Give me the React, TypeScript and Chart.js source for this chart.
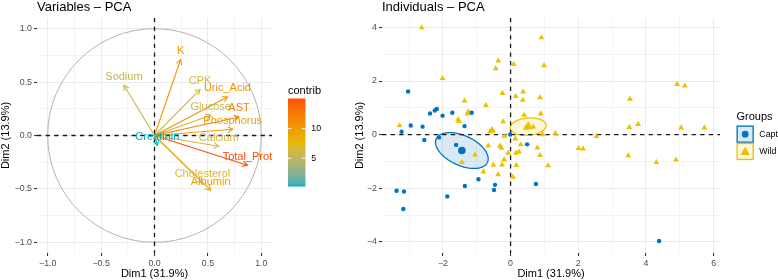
import React, { useEffect, useRef } from "react";
import { Chart, registerables } from "chart.js";

Chart.register(...registerables);

const FONT = "'Liberation Sans', Arial, Helvetica, sans-serif";

// ---------------- Variables – PCA ----------------
const VAR_NAMES = ["K", "Sodium", "CPK", "Uric_Acid", "Glucose", "AST", "Phosphorus", "Calcium", "Total_Prot", "Cholesterol", "Albumin", "Creatinin"];
const VAR_DIM1 = [0.245, -0.286, 0.426, 0.683, 0.526, 0.791, 0.732, 0.601, 0.87, 0.449, 0.526, 0.027];
const VAR_DIM2 = [0.711, 0.471, 0.43, 0.361, 0.19, 0.174, 0.059, -0.1, -0.278, -0.444, -0.512, -0.091];
const VAR_CONTRIB = [10.3, 5.5, 6.7, 10.9, 5.7, 11.9, 9.8, 6.8, 15.1, 7.3, 9.8, 0.3];
const CONTRIB_TICKS = [5, 10];
const CONTRIB_COLORS = ["#00AFBB", "#E7B800", "#FC4E07"];

const VAR_GRID = [-1, -0.75, -0.5, -0.25, 0, 0.25, 0.5, 0.75, 1];
const VAR_MAJOR = [-1, -0.5, 0, 0.5, 1];
const VAR_TICK_LABELS = ["\u22121.0", "\u22120.5", "0.0", "0.5", "1.0"];

// ---------------- Individuals – PCA ----------------
const GROUPS = ["Captive", "Wild"];
const GROUP_COLORS = ["#0073C2", "#EFC000"];

const CAPT_DIM1 = [-3.03, -2.38, -2.24, -2.18, -2.01, -1.72, -1.15, -1.36, -2.95, -2.6, -3.22, -2.55, -2.11, -1.61, -0.95, -1.35, -0.46, -0.49, -3.37, -3.15, -1.87, -3.17, 0.75, -0.01, 0.49, 4.39];
const CAPT_DIM2 = [1.61, 0.79, 0.9, 0.96, 0.71, 0.82, 0.82, 0.32, 0.34, 0.3, 0.11, -0.2, -0.1, -0.38, -1.66, -1.91, -1.87, -2.06, -2.09, -2.12, -2.3, -2.77, -1.84, 0.01, -0.36, -3.96];

const WILD_DIM1 = [-2.63, 0.91, -0.36, -0.44, 0.09, 0.99, -2.01, -0.24, 0.37, 0.15, 0.36, 0.87, -1.36, -0.73, -1.25, -1.27, -1.55, -1.53, -0.22, 0.4, 0.89, -3.28, -0.55, -0.52, 0.45, 0.67, 0.94, 1.32, -0.18, -0.61, 0.14, -0.31, -0.27, 0.3, 0.16, 0.25, 0.79, 0.87, 1.11, -0.19, -0.25, 0.17, 0.07, -0.07, -0.37, -0.66, -1.05, -1.44, -0.51, -0.8, 2.01, 2.14, 2.54, 4.92, 5.15, 3.53, 3.51, 3.77, 5.04, 5.73, 3.48, 4.31, 4.89];
const WILD_DIM2 = [3.99, 3.62, 2.75, 2.47, 2.62, 2.58, 2.1, 1.54, 1.6, 1.43, 1.29, 1.38, 1.26, 1.1, 0.86, 0.78, 0.57, 0.5, 0.49, 0.73, 0.78, 0.34, 0.2, 0.14, 0.25, 0.29, 0.01, 0.05, -0.05, 0.11, -0.15, -0.42, -0.5, -0.37, -0.68, -0.64, -0.49, -0.77, -1.15, -0.93, -1.12, -1.14, -1.58, -0.68, -1.49, -0.41, -0.75, -1.03, -1.13, -1.38, -0.51, -0.53, -0.06, 1.88, 1.82, 1.33, 0.28, 0.39, 0.26, 0.26, -0.78, -1.03, -0.94];

const GROUP_MEAN_DIM1 = [-1.44, 0.52];
const GROUP_MEAN_DIM2 = [-0.59, 0.3];
// confidence ellipses: semi-axis vectors in data units
const ELLIPSE_MAJOR = [[0.757, -0.441], [0.532, 0.058]];
const ELLIPSE_MINOR = [[-0.186, -0.503], [0.022, -0.322]];

const IND_X_GRID = [-3, -2, -1, 0, 1, 2, 3, 4, 5, 6];
const IND_X_MAJOR = [-2, 0, 2, 4, 6];
const IND_X_LABELS = ["\u22122", "0", "2", "4", "6"];
const IND_Y_GRID = [-4, -3, -2, -1, 0, 1, 2, 3, 4];
const IND_Y_MAJOR = [-4, -2, 0, 2, 4];
const IND_Y_LABELS = ["\u22124", "\u22122", "0", "2", "4"];

// ---------------- colour helpers (Lab interpolation like ggplot) ----------------
function hexToRgb(h: string) {
  return [parseInt(h.slice(1, 3), 16), parseInt(h.slice(3, 5), 16), parseInt(h.slice(5, 7), 16)];
}
function toLin(c: number) {
  c /= 255;
  return c <= 0.04045 ? c / 12.92 : Math.pow((c + 0.055) / 1.055, 2.4);
}
function fromLin(c: number) {
  const v = c <= 0.0031308 ? 12.92 * c : 1.055 * Math.pow(c, 1 / 2.4) - 0.055;
  return Math.round(Math.max(0, Math.min(1, v)) * 255);
}
function rgbToLab(rgb: number[]) {
  const R = toLin(rgb[0]), G = toLin(rgb[1]), B = toLin(rgb[2]);
  const X = (0.4124564 * R + 0.3575761 * G + 0.1804375 * B) / 0.95047;
  const Y = 0.2126729 * R + 0.7151522 * G + 0.072175 * B;
  const Z = (0.0193339 * R + 0.119192 * G + 0.9503041 * B) / 1.08883;
  const f = (t: number) => (t > 0.008856 ? Math.cbrt(t) : 7.787 * t + 16 / 116);
  return [116 * f(Y) - 16, 500 * (f(X) - f(Y)), 200 * (f(Y) - f(Z))];
}
function labToRgb(lab: number[]) {
  const fy = (lab[0] + 16) / 116, fx = fy + lab[1] / 500, fz = fy - lab[2] / 200;
  const inv = (t: number) => (t * t * t > 0.008856 ? t * t * t : (t - 16 / 116) / 7.787);
  const X = inv(fx) * 0.95047, Y = inv(fy), Z = inv(fz) * 1.08883;
  const R = 3.2404542 * X - 1.5371385 * Y - 0.4985314 * Z;
  const G = -0.969266 * X + 1.8760108 * Y + 0.041556 * Z;
  const B = 0.0556434 * X - 0.2040259 * Y + 1.0572252 * Z;
  return [fromLin(R), fromLin(G), fromLin(B)];
}
const STOPS_LAB = CONTRIB_COLORS.map((c) => rgbToLab(hexToRgb(c)));
const C_MIN = Math.min(...VAR_CONTRIB);
const C_MAX = Math.max(...VAR_CONTRIB);
function contribColor(v: number) {
  const t = Math.max(0, Math.min(1, (v - C_MIN) / (C_MAX - C_MIN)));
  const seg = t * (STOPS_LAB.length - 1);
  const i = Math.min(STOPS_LAB.length - 2, Math.floor(seg));
  const f = seg - i;
  const a = STOPS_LAB[i], b = STOPS_LAB[i + 1];
  const rgb = labToRgb([a[0] + (b[0] - a[0]) * f, a[1] + (b[1] - a[1]) * f, a[2] + (b[2] - a[2]) * f]);
  return `rgb(${rgb[0]},${rgb[1]},${rgb[2]})`;
}
function alpha(hex: string, a: number) {
  const c = hexToRgb(hex);
  return `rgba(${c[0]},${c[1]},${c[2]},${a})`;
}

// ---------------- shared axis builder ----------------
function makeScale(min: number, max: number, grid: number[], major: number[], labels: string[], fitKey: string, fitVal: number) {
  return {
    type: "linear",
    min,
    max,
    afterBuildTicks: (s: any) => {
      s.ticks = grid.map((v) => ({ value: v }));
    },
    afterFit: (s: any) => {
      s[fitKey] = fitVal;
    },
    ticks: {
      autoSkip: false,
      maxRotation: 0,
      minRotation: 0,
      padding: 2,
      color: "#4D4D4D",
      font: { family: FONT, size: 8.8 },
      callback: (v: number) => {
        const i = major.indexOf(v);
        return i >= 0 ? labels[i] : "";
      },
    },
    grid: {
      color: "#EBEBEB",
      lineWidth: (c: any) => (major.includes(c.tick?.value) ? 1.07 : 0.53),
      tickColor: (c: any) => (major.includes(c.tick?.value) ? "#333333" : "rgba(0,0,0,0)"),
      tickLength: 3,
      drawTicks: true,
    },
    border: { display: false },
  };
}

function drawZeroLines(ctx: CanvasRenderingContext2D, a: any, px: number, py: number) {
  ctx.save();
  ctx.strokeStyle = "#1A1A1A";
  ctx.lineWidth = 1.3;
  ctx.setLineDash([4.3, 4.3]);
  ctx.beginPath();
  ctx.moveTo(a.left, py);
  ctx.lineTo(a.right, py);
  ctx.moveTo(px, a.top);
  ctx.lineTo(px, a.bottom);
  ctx.stroke();
  ctx.restore();
}

function drawTitles(ctx: CanvasRenderingContext2D, a: any, title: string, yTitleX: number) {
  ctx.save();
  ctx.fillStyle = "#000000";
  ctx.font = `13px ${FONT}`;
  ctx.textAlign = "left";
  ctx.textBaseline = "alphabetic";
  ctx.fillText(title, a.left, 10.5);
  ctx.font = `11px ${FONT}`;
  ctx.textAlign = "center";
  ctx.fillText("Dim1 (31.9%)", (a.left + a.right) / 2, 277);
  ctx.translate(yTitleX, (a.top + a.bottom) / 2);
  ctx.rotate(-Math.PI / 2);
  ctx.fillText("Dim2 (13.9%)", 0, 0);
  ctx.restore();
}

// ---------------- plugins ----------------
const varPlugin = {
  id: "varDecor",
  beforeDatasetsDraw(chart: any) {
    const { ctx, chartArea: a, scales } = chart;
    const x = scales.x, y = scales.y;
    const cx = x.getPixelForValue(0), cy = y.getPixelForValue(0);
    ctx.save();
    ctx.beginPath();
    ctx.ellipse(cx, cy, x.getPixelForValue(1) - cx, cy - y.getPixelForValue(1), 0, 0, Math.PI * 2);
    ctx.strokeStyle = "#B3B3B3";
    ctx.lineWidth = 1;
    ctx.stroke();
    ctx.restore();
    drawZeroLines(ctx, a, cx, cy);
  },
  afterDatasetsDraw(chart: any) {
    const { ctx, scales } = chart;
    const x = scales.x, y = scales.y;
    const ox = x.getPixelForValue(0), oy = y.getPixelForValue(0);
    ctx.save();
    VAR_NAMES.forEach((name, i) => {
      const tx = x.getPixelForValue(VAR_DIM1[i]);
      const ty = y.getPixelForValue(VAR_DIM2[i]);
      const col = contribColor(VAR_CONTRIB[i]);
      const ang = Math.atan2(ty - oy, tx - ox);
      const L = 5.7, h = Math.PI / 6;
      ctx.strokeStyle = col;
      ctx.lineWidth = 1.1;
      ctx.beginPath();
      ctx.moveTo(tx - L * Math.cos(ang - h), ty - L * Math.sin(ang - h));
      ctx.lineTo(tx, ty);
      ctx.lineTo(tx - L * Math.cos(ang + h), ty - L * Math.sin(ang + h));
      ctx.stroke();
      ctx.fillStyle = col;
      ctx.font = `11px ${FONT}`;
      ctx.textAlign = "center";
      ctx.textBaseline = "alphabetic";
      ctx.fillText(name, tx, ty - 5.6);
    });
    ctx.restore();
  },
  afterDraw(chart: any) {
    const { ctx, chartArea: a } = chart;
    drawTitles(ctx, a, "Variables \u2013 PCA", 9);
    // colour bar legend
    const bx = 288, bw = 17.3, top = 98.5, bot = 186;
    ctx.save();
    ctx.fillStyle = "#000";
    ctx.font = `11px ${FONT}`;
    ctx.textAlign = "left";
    ctx.textBaseline = "alphabetic";
    ctx.fillText("contrib", bx, 93.5);
    const n = 120;
    for (let k = 0; k < n; k++) {
      const v = C_MIN + ((k + 0.5) / n) * (C_MAX - C_MIN);
      const y0 = bot - ((k + 1) / n) * (bot - top);
      ctx.fillStyle = contribColor(v);
      ctx.fillRect(bx, y0, bw, (bot - top) / n + 0.6);
    }
    CONTRIB_TICKS.forEach((t) => {
      const ty = bot - ((t - C_MIN) / (C_MAX - C_MIN)) * (bot - top);
      ctx.strokeStyle = "#FFFFFF";
      ctx.lineWidth = 1;
      ctx.beginPath();
      ctx.moveTo(bx, ty);
      ctx.lineTo(bx + bw / 5, ty);
      ctx.moveTo(bx + bw, ty);
      ctx.lineTo(bx + bw - bw / 5, ty);
      ctx.stroke();
      ctx.fillStyle = "#000";
      ctx.font = `8.8px ${FONT}`;
      ctx.textBaseline = "middle";
      ctx.fillText(String(t), bx + bw + 6, ty);
    });
    ctx.restore();
  },
};

function trianglePath(ctx: CanvasRenderingContext2D, x: number, y: number, r: number) {
  ctx.beginPath();
  ctx.moveTo(x, y - r);
  ctx.lineTo(x + r * 0.866, y + r * 0.5);
  ctx.lineTo(x - r * 0.866, y + r * 0.5);
  ctx.closePath();
}

const indPlugin = {
  id: "indDecor",
  beforeDatasetsDraw(chart: any) {
    const { ctx, chartArea: a, scales } = chart;
    const x = scales.x, y = scales.y;
    ctx.save();
    GROUP_MEAN_DIM1.forEach((mx, g) => {
      const my = GROUP_MEAN_DIM2[g];
      const M = ELLIPSE_MAJOR[g], m = ELLIPSE_MINOR[g];
      ctx.beginPath();
      const steps = 90;
      for (let k = 0; k <= steps; k++) {
        const t = (k / steps) * Math.PI * 2;
        const dx = mx + Math.cos(t) * M[0] + Math.sin(t) * m[0];
        const dy = my + Math.cos(t) * M[1] + Math.sin(t) * m[1];
        const px = x.getPixelForValue(dx), py = y.getPixelForValue(dy);
        if (k === 0) ctx.moveTo(px, py);
        else ctx.lineTo(px, py);
      }
      ctx.closePath();
      ctx.fillStyle = alpha(GROUP_COLORS[g], 0.15);
      ctx.fill();
      ctx.strokeStyle = GROUP_COLORS[g];
      ctx.lineWidth = 1.3;
      ctx.stroke();
    });
    ctx.restore();
    drawZeroLines(ctx, a, x.getPixelForValue(0), y.getPixelForValue(0));
  },
  afterDraw(chart: any) {
    const { ctx, chartArea: a } = chart;
    drawTitles(ctx, a, "Individuals \u2013 PCA", 23);
    // groups legend (canvas offset 340)
    const lx = 736.5 - 340, ks = 17.3, ky0 = 125.5;
    ctx.save();
    ctx.fillStyle = "#000";
    ctx.font = `11px ${FONT}`;
    ctx.textAlign = "left";
    ctx.textBaseline = "alphabetic";
    ctx.fillText("Groups", lx, 119.5);
    GROUPS.forEach((gname, g) => {
      const ky = ky0 + g * ks;
      ctx.fillStyle = alpha(GROUP_COLORS[g], 0.15);
      ctx.fillRect(lx, ky, ks, ks);
      ctx.strokeStyle = GROUP_COLORS[g];
      ctx.lineWidth = 1.3;
      ctx.strokeRect(lx + 0.65, ky + 0.65, ks - 1.3, ks - 1.3);
      ctx.fillStyle = GROUP_COLORS[g];
      const cx = lx + ks / 2, cy = ky + ks / 2;
      if (g === 0) {
        ctx.beginPath();
        ctx.arc(cx, cy, 3.4, 0, Math.PI * 2);
        ctx.fill();
      } else {
        trianglePath(ctx, cx, cy + 0.8, 5.4);
        ctx.fill();
      }
      ctx.fillStyle = "#000";
      ctx.font = `8.8px ${FONT}`;
      ctx.textBaseline = "middle";
      ctx.fillText(gname, lx + ks + 5.5, cy);
    });
    ctx.restore();
  },
};

function VarChart() {
  const ref = useRef<HTMLCanvasElement | null>(null);
  useEffect(() => {
    if (!ref.current) return;
    const datasets = VAR_NAMES.map((name, i) => ({
      label: name,
      data: [
        { x: 0, y: 0 },
        { x: VAR_DIM1[i], y: VAR_DIM2[i] },
      ],
      showLine: true,
      borderColor: contribColor(VAR_CONTRIB[i]),
      borderWidth: 1.1,
      pointRadius: 0,
      fill: false,
    }));
    const chart = new Chart(ref.current, {
      type: "scatter",
      data: { datasets } as any,
      options: {
        animation: false,
        responsive: false,
        layout: { padding: { left: 0, top: 18, right: 340 - 272, bottom: 0 } },
        plugins: { legend: { display: false }, tooltip: { enabled: false }, title: { display: false } },
        scales: {
          x: makeScale(-1.1, 1.1, VAR_GRID, VAR_MAJOR, VAR_TICK_LABELS, "height", 27) as any,
          y: makeScale(-1.1, 1.1, VAR_GRID, VAR_MAJOR, VAR_TICK_LABELS, "width", 37) as any,
        },
      },
      plugins: [varPlugin],
    });
    return () => chart.destroy();
  }, []);
  return <canvas ref={ref} width={340} height={280} style={{ position: "absolute", left: 0, top: 0, width: 340, height: 280 }} />;
}

function IndChart() {
  const ref = useRef<HTMLCanvasElement | null>(null);
  useEffect(() => {
    if (!ref.current) return;
    const pts = (xs: number[], ys: number[]) => xs.map((v, i) => ({ x: v, y: ys[i] }));
    const chart = new Chart(ref.current, {
      type: "scatter",
      data: {
        datasets: [
          { label: "Captive", data: pts(CAPT_DIM1, CAPT_DIM2), pointStyle: "circle", pointRadius: 2.2, backgroundColor: GROUP_COLORS[0], borderWidth: 0 },
          { label: "Wild", data: pts(WILD_DIM1, WILD_DIM2), pointStyle: "triangle", pointRadius: 3.4, backgroundColor: GROUP_COLORS[1], borderWidth: 0 },
          { label: "Captive mean", data: [{ x: GROUP_MEAN_DIM1[0], y: GROUP_MEAN_DIM2[0] }], pointStyle: "circle", pointRadius: 3.8, backgroundColor: GROUP_COLORS[0], borderWidth: 0 },
          { label: "Wild mean", data: [{ x: GROUP_MEAN_DIM1[1], y: GROUP_MEAN_DIM2[1] }], pointStyle: "triangle", pointRadius: 5.4, backgroundColor: GROUP_COLORS[1], borderWidth: 0 },
        ],
      } as any,
      options: {
        animation: false,
        responsive: false,
        layout: { padding: { left: 0, top: 18, right: 438 - 380, bottom: 0 } },
        plugins: { legend: { display: false }, tooltip: { enabled: false }, title: { display: false } },
        scales: {
          x: makeScale(-3.8, 6.19, IND_X_GRID, IND_X_MAJOR, IND_X_LABELS, "height", 27) as any,
          y: makeScale(-4.41, 4.35, IND_Y_GRID, IND_Y_MAJOR, IND_Y_LABELS, "width", 42) as any,
        },
      },
      plugins: [indPlugin],
    });
    return () => chart.destroy();
  }, []);
  return <canvas ref={ref} width={438} height={280} style={{ position: "absolute", left: 340, top: 0, width: 438, height: 280 }} />;
}

export default function App() {
  return (
    <div style={{ position: "fixed", left: 0, top: 0, width: 778, height: 280, background: "#FFFFFF", overflow: "hidden" }}>
      <VarChart />
      <IndChart />
    </div>
  );
}
